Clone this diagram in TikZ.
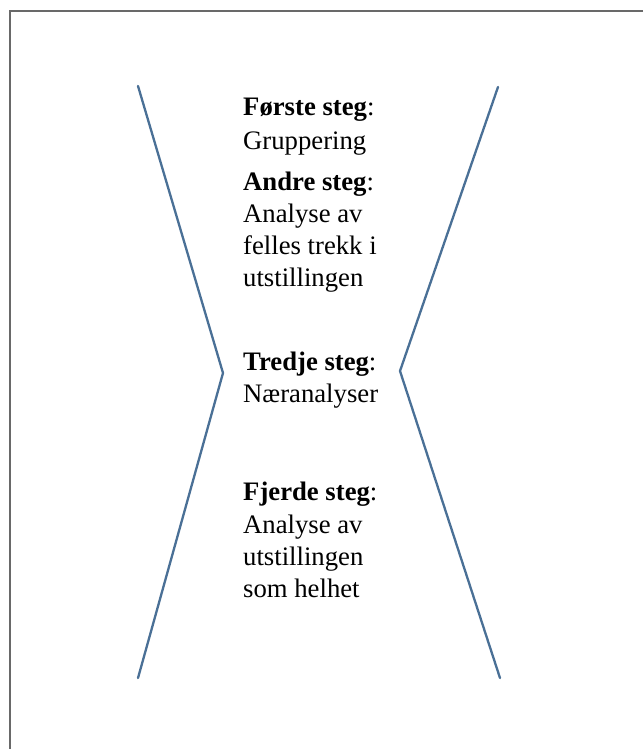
\documentclass[tikz,border=0pt]{standalone}
\usepackage{fontspec}
\setmainfont{Liberation Serif}
\definecolor{linecol}{RGB}{74,112,150}
\definecolor{framecol}{RGB}{105,105,105}
\begin{document}
\begin{tikzpicture}[x=1pt,y=-1pt,
  stagetxt/.style={anchor=base west,inner sep=0pt,
    font=\fontsize{26.7}{32.3}\selectfont},
  hourglass/.style={draw=linecol,line width=2.3pt,line join=miter,line cap=round},
  frameline/.style={draw=framecol,line width=1.4pt}]
\useasboundingbox (0,0) rectangle (643,749);
\fill[white] (0,0) rectangle (643,749);
\coordinate (f0) at (10,11);
\coordinate (f1) at (643,11);
\coordinate (f2) at (10,749);
\draw[frameline] (f1) -- (f0) -- (f2);
\coordinate (lt) at (138,86);
\coordinate (la) at (223,373);
\coordinate (lb) at (138,678);
\coordinate (rt) at (498,87);
\coordinate (ra) at (400,371);
\coordinate (rb) at (500,678);
\draw[hourglass] (lt) -- (la) -- (lb);
\draw[hourglass] (rt) -- (ra) -- (rb);
\node[stagetxt] (s1a) at (243,116) {\textbf{Første steg}:};
\node[stagetxt] (s1b) at (243,149) {Gruppering};
\node[stagetxt] (s2a) at (243,190) {\textbf{Andre steg}:};
\node[stagetxt] (s2b) at (243,222) {Analyse av};
\node[stagetxt] (s2c) at (243,254) {felles trekk i};
\node[stagetxt] (s2d) at (243,286) {utstillingen};
\node[stagetxt] (s3a) at (243,370) {\textbf{Tredje steg}:};
\node[stagetxt] (s3b) at (243,402) {Næranalyser};
\node[stagetxt] (s4a) at (243,500) {\textbf{Fjerde steg}:};
\node[stagetxt] (s4b) at (243,533) {Analyse av};
\node[stagetxt] (s4c) at (243,565) {utstillingen};
\node[stagetxt] (s4d) at (243,597) {som helhet};
\end{tikzpicture}
\end{document}
